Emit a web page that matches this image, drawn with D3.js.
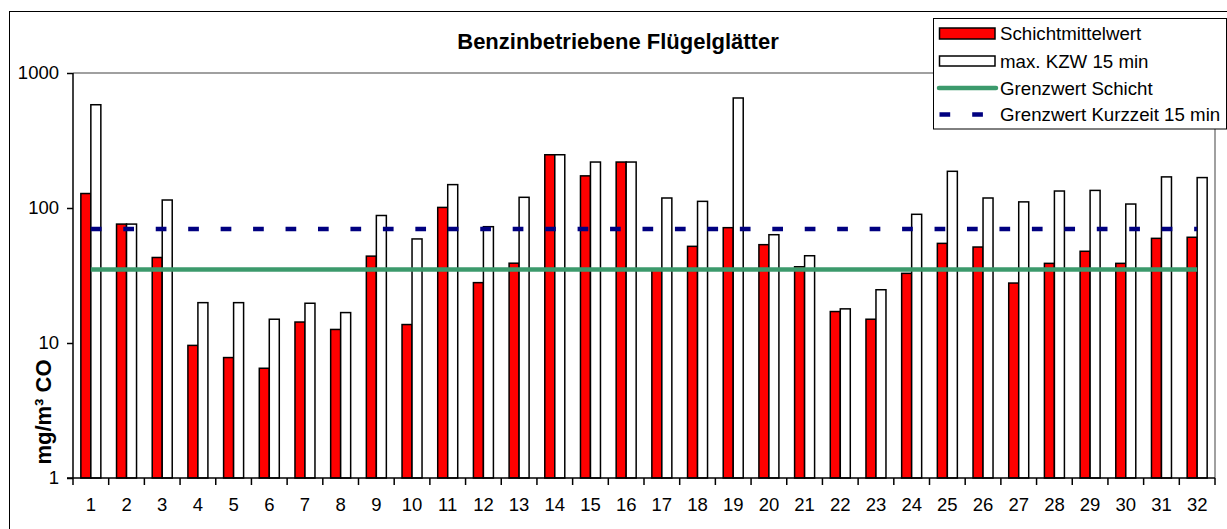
<!DOCTYPE html>
<html><head><meta charset="utf-8">
<script src="https://cdn.jsdelivr.net/npm/d3@7"></script>
<style>body{margin:0;background:#fff}svg{display:block;font-family:"Liberation Sans",Arial,sans-serif}</style>
</head><body>
<svg id="c" width="1227" height="529"></svg>
<script>
const categories = d3.range(1, 33).map(String);
const schichtmittelwert = [128, 76, 43, 9.6, 7.8, 6.5, 14.3, 12.6, 44, 13.7, 101, 28, 39, 248, 173, 219, 35, 52, 71.5, 53.5, 36.7, 17.1, 15.0, 32.8, 54.7, 51.4, 27.8, 38.9, 47.8, 38.9, 59.6, 60.7];
const maxKZW15 = [582, 76, 114.6, 19.9, 19.9, 15.0, 19.7, 16.8, 88, 59, 149, 72.7, 120, 248, 219, 219, 118.6, 112, 653, 63.4, 44.3, 17.9, 24.8, 89.8, 187, 118.6, 111, 133.6, 135, 107, 170, 168];
const grenzwertSchicht = 35;
const grenzwertKurzzeit = 70;
const yTicks = [1, 10, 100, 1000];
const seriesNames = ["Schichtmittelwert", "max. KZW 15 min", "Grenzwert Schicht", "Grenzwert Kurzzeit 15 min"];
const title = "Benzinbetriebene Flügelglätter";
const yLabel = "mg/m³ CO";

const svg = d3.select("#c");
const L = 73, R = 1215, T = 73, B = 478;

// outer frame
svg.append("rect").attr("x", 9.5).attr("y", 11.5).attr("width", 1240).attr("height", 540)
  .attr("fill", "none").attr("stroke", "#000").attr("stroke-width", 1);

const x = d3.scaleBand().domain(categories).range([L, R]).padding(0);
const bw = x.bandwidth();
const xs = d3.scaleBand().domain(["a", "b"]).range([bw * 0.5 - 10, bw * 0.5 + 10]).padding(0);
const y = d3.scaleLog().domain([1, 1000]).range([B, T]);

// plot frame top/right gray
svg.append("line").attr("x1", L).attr("x2", R).attr("y1", T).attr("y2", T).attr("stroke", "#808080").attr("stroke-width", 1.5);
svg.append("line").attr("x1", R).attr("x2", R).attr("y1", T).attr("y2", B).attr("stroke", "#808080").attr("stroke-width", 1.5);

// bars
const g = svg.append("g");
categories.forEach((c, i) => {
  g.append("rect").attr("x", x(c) + xs("a")).attr("width", xs.bandwidth())
    .attr("y", y(schichtmittelwert[i])).attr("height", B - y(schichtmittelwert[i]))
    .attr("fill", "#ff0000").attr("stroke", "#000").attr("stroke-width", 1.5);
  g.append("rect").attr("x", x(c) + xs("b")).attr("width", xs.bandwidth())
    .attr("y", y(maxKZW15[i])).attr("height", B - y(maxKZW15[i]))
    .attr("fill", "#fff").attr("stroke", "#000").attr("stroke-width", 1.5);
});

const cx1 = x(categories[0]) + bw / 2, cx2 = x(categories[categories.length - 1]) + bw / 2;
svg.append("line").attr("x1", cx1).attr("x2", cx2).attr("y1", y(grenzwertSchicht)).attr("y2", y(grenzwertSchicht))
  .attr("stroke", "#3c9a6c").attr("stroke-width", 4.5);
svg.append("line").attr("x1", cx1).attr("x2", cx2).attr("y1", y(grenzwertKurzzeit)).attr("y2", y(grenzwertKurzzeit))
  .attr("stroke", "#000080").attr("stroke-width", 4.5).attr("stroke-dasharray", "10.7 21.75");

// axes
const yAxis = d3.axisLeft(y).tickValues(yTicks).tickFormat(d3.format("d")).tickSize(6).tickPadding(8);
const ya = svg.append("g").attr("transform", `translate(${L},0)`).call(yAxis);
ya.select(".domain").attr("stroke", "#000").attr("stroke-width", 1.5).attr("d", `M0,${T}V${B}`);
ya.selectAll(".tick line").attr("stroke", "#000").attr("stroke-width", 1.5);
ya.selectAll("text").attr("font-size", 18.5).attr("fill", "#000").attr("font-family", "Liberation Sans, Arial, sans-serif");

const xAxis = d3.axisBottom(x).tickSize(0).tickPadding(20);
const xa = svg.append("g").attr("transform", `translate(0,${B})`).call(xAxis);
xa.select(".domain").attr("stroke", "#000").attr("stroke-width", 1.5).attr("d", `M${L - 6},0H${R}`);
xa.selectAll("text").attr("font-size", 18.5).attr("fill", "#000").attr("font-family", "Liberation Sans, Arial, sans-serif");
// boundary ticks
const bounds = categories.map(c => x(c)).concat([R]);
svg.append("g").selectAll("line").data(bounds).join("line")
  .attr("x1", d => d).attr("x2", d => d).attr("y1", B).attr("y2", B + 7)
  .attr("stroke", "#000").attr("stroke-width", 1.5);

// title
svg.append("text").attr("x", 618).attr("y", 49).attr("text-anchor", "middle")
  .attr("font-size", 22).attr("font-weight", "bold").text(title);
// y label
svg.append("text").attr("transform", "translate(50.5,412) rotate(-90)").attr("text-anchor", "middle")
  .attr("font-size", 22).attr("font-weight", "bold").text(yLabel);

// legend
const lg = svg.append("g");
lg.append("rect").attr("x", 933.5).attr("y", 18.5).attr("width", 293).attr("height", 110.5)
  .attr("fill", "#fff").attr("stroke", "#000").attr("stroke-width", 1);
const rows = [33.5, 61, 88, 114.5];
lg.append("rect").attr("x", 939.5).attr("y", rows[0] - 5.5).attr("width", 55.5).attr("height", 11)
  .attr("fill", "#ff0000").attr("stroke", "#000").attr("stroke-width", 1.5);
lg.append("rect").attr("x", 939.5).attr("y", rows[1] - 5).attr("width", 55.5).attr("height", 10)
  .attr("fill", "#fff").attr("stroke", "#000").attr("stroke-width", 1.5);
lg.append("line").attr("x1", 939).attr("x2", 996).attr("y1", rows[2]).attr("y2", rows[2])
  .attr("stroke", "#3c9a6c").attr("stroke-width", 4.5).attr("stroke-linecap", "round");
lg.append("line").attr("x1", 939.5).attr("x2", 996).attr("y1", rows[3]).attr("y2", rows[3])
  .attr("stroke", "#000080").attr("stroke-width", 4.5).attr("stroke-dasharray", "10.7 22");
seriesNames.forEach((n, i) => {
  lg.append("text").attr("x", 1000).attr("y", rows[i]).attr("dy", "0.36em")
    .attr("font-size", 18.7).text(n);
});
</script>
</body></html>
